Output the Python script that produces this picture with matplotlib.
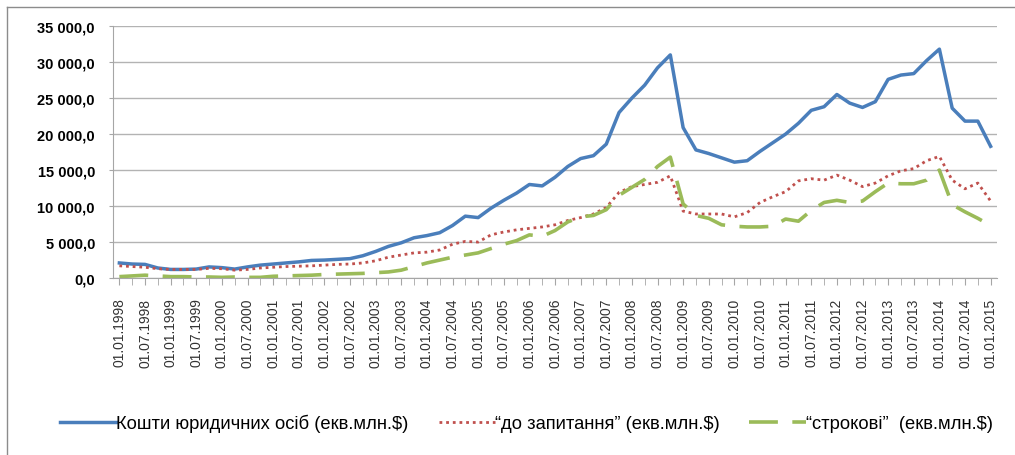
import matplotlib
matplotlib.use("Agg")
import matplotlib.pyplot as plt
from matplotlib import font_manager
from matplotlib.lines import Line2D
from matplotlib.ticker import FuncFormatter, FixedLocator

# quarterly dates 01.01.1998 .. 01.01.2015
dates = ["01.%02d.%d" % (m, y) for y in range(1998, 2016) for m in (1, 4, 7, 10)][:69]

legal_entities = [2100, 1950, 1900, 1400, 1200, 1200, 1250, 1550, 1450, 1250,
                  1550, 1800, 1950, 2100, 2250, 2450, 2500, 2600, 2700, 3100,
                  3700, 4400, 4900, 5600, 5900, 6300, 7300, 8600, 8400, 9700,
                  10800, 11800, 13000, 12800, 14000, 15500, 16600, 17000, 18600, 23000,
                  25000, 26800, 29200, 31000, 20900, 17800, 17300, 16700, 16100, 16300,
                  17600, 18800, 20000, 21500, 23300, 23800, 25500, 24300, 23700, 24500,
                  27600, 28200, 28400, 30200, 31800, 23600, 21800, 21800, 18300]

on_demand = [1700, 1600, 1500, 1300, 1200, 1200, 1200, 1350, 1300, 1100,
             1200, 1400, 1500, 1600, 1650, 1700, 1800, 1900, 1950, 2100,
             2400, 2900, 3200, 3500, 3600, 3900, 4700, 5100, 5000, 6000,
             6400, 6700, 6900, 7100, 7400, 8000, 8400, 8900, 9800, 11900,
             12700, 13000, 13300, 14200, 9300, 8900, 8900, 8900, 8500, 9100,
             10500, 11300, 12000, 13500, 13800, 13600, 14300, 13600, 12700, 13200,
             14200, 14900, 15200, 16300, 16900, 13600, 12400, 13200, 10700]

term = [200, 300, 400, 300, 200, 200, 150, 150, 100, 150,
        100, 100, 250, 300, 350, 400, 500, 550, 600, 650,
        750, 850, 1100, 1600, 2100, 2500, 2900, 3200, 3500, 4100,
        4700, 5200, 6000, 5800, 6600, 7800, 8500, 8700, 9500, 11500,
        12600, 13700, 15500, 16800, 10300, 8700, 8300, 7400, 7200, 7100,
        7100, 7200, 8200, 7900, 9400, 10500, 10800, 10500, 10700, 12000,
        13200, 13100, 13100, 13600, 15000, 10200, 9200, 8300, 7300]

labels = ["Кошти юридичних осіб (екв.млн.$)",
          "“до запитання” (екв.млн.$)",
          "“строкові”  (екв.млн.$)"]

available = {f.name for f in font_manager.fontManager.ttflist}
narrow = "Liberation Sans Narrow" in available
plt.rcParams["font.family"] = ["Liberation Sans", "DejaVu Sans"]

fig = plt.figure(figsize=(10.15, 4.56), dpi=100)
ax = fig.add_axes([0.1113, 0.388, 0.871, 0.5526])

x = list(range(len(dates)))
ax.plot(x, legal_entities, color="#4a7ebb", lw=2.5, solid_joinstyle="round")
ax.plot(x, on_demand, color="#c0504d", lw=2.0, linestyle=(0, (1, 1.4)),
        dash_capstyle="butt")
ax.plot(x, term, color="#9bbb59", lw=2.6, linestyle=(0, (8, 4)),
        dash_capstyle="butt")

ax.set_xlim(-0.5, len(dates) - 0.5)
ax.set_ylim(0, 35000)
ax.set_yticks(range(0, 35001, 5000))
ax.yaxis.set_major_formatter(FuncFormatter(
    lambda v, p: ("{:,.1f}".format(v)).replace(",", " ").replace(".", ",")))
ax.grid(axis="y", color="#b3b3b3", lw=1)
ax.set_axisbelow(True)

ax.xaxis.set_major_locator(FixedLocator(x[::2]))
ax.set_xticklabels(dates[::2], rotation=90, fontsize=10, color="#333333")
ax.xaxis.set_minor_locator(FixedLocator(x[1::2]))

for s in ("top", "right"):
    ax.spines[s].set_visible(False)
for s in ("left", "bottom"):
    ax.spines[s].set_color("#a6a6a6")
ax.tick_params(axis="y", length=3, pad=10, color="#a6a6a6", labelsize=10.5)
ax.tick_params(axis="x", which="both", length=5, pad=9, color="#a6a6a6")
for t in ax.get_yticklabels():
    t.set_fontweight("bold")

# legend
if narrow:
    lfont = {"family": "Liberation Sans Narrow", "size": 15}
    hl, cs = 2.67, 1.43
else:
    lfont = {"family": "Liberation Sans", "size": 13.2}
    hl, cs = 3.06, 1.64
handles = ax.get_lines()
fig.legend(handles, labels, loc="center left", bbox_to_anchor=(60 / 1015, 0.07),
           ncol=3, frameon=False, prop=lfont, handlelength=hl,
           handletextpad=0.0, columnspacing=cs, borderpad=0, borderaxespad=0)

# outer chart frame
fig.add_artist(Line2D([7 / 1015, 7 / 1015], [0, 448 / 456], color="#8c8c8c", lw=1))
fig.add_artist(Line2D([7 / 1015, 1], [448 / 456, 448 / 456], color="#8c8c8c", lw=1))

fig.savefig("out.png", dpi=100)
